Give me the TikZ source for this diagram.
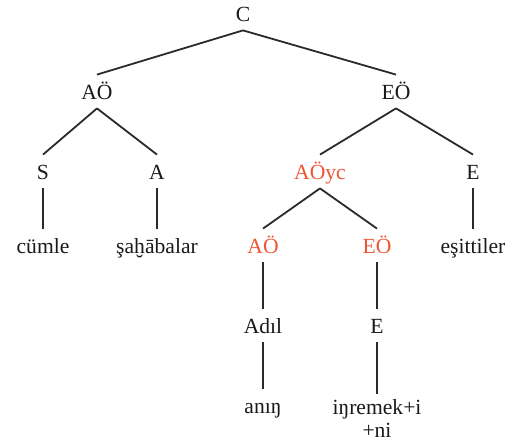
\documentclass[tikz,border=0pt]{standalone}
\usepackage{fontspec}
\setmainfont{Liberation Serif}
\definecolor{treered}{HTML}{EE5533}
\definecolor{treeline}{HTML}{2A2A2A}
\begin{document}
\begin{tikzpicture}[x=0.5pt,y=-0.5pt,
  lbl/.style={anchor=base,inner sep=2.5pt,text height=10pt,text depth=1.5pt,
    font=\fontsize{10.8}{13}\selectfont,text=black!90},
  hl/.style={lbl,text=treered},
  branch/.style={draw=treeline,line width=0.9pt}]
\useasboundingbox (0,0) rectangle (519,448);

% top
\node[lbl] (c) at (243,22) {C};
\node[lbl] (ao) at (97,100) {AÖ};
\node[lbl] (eo) at (396,100) {EÖ};

% second row
\node[lbl] (s) at (43,180) {S};
\node[lbl] (a) at (157,180) {A};
\node[hl] (aoyc) at (320,180) {AÖyc};
\node[lbl] (e) at (473,180) {E};

% third row
\node[lbl] (cumle) at (43,254) {cümle};
\node[lbl] (sahabalar) at (157,254) {şaḫābalar};
\node[hl] (aoyc-ao) at (263,254) {AÖ};
\node[hl] (aoyc-eo) at (377,254) {EÖ};
\node[lbl] (esittiler) at (473,254) {eşittiler};

% fourth row
\node[lbl] (adil) at (263,334) {Adıl};
\node[lbl] (e2) at (377,334) {E};

% bottom
\node[lbl] (anin) at (263,414) {anıŋ};
\node[lbl,anchor=north,text height=,text depth=,align=center,
  font=\fontsize{10.8}{11.5}\selectfont] (inremek) at (377,394) {iŋremek+i\\+ni};

\draw[branch] (c.south) -- (ao.north);
\draw[branch] (c.south) -- (eo.north);
\draw[branch] (ao.south) -- (s.north);
\draw[branch] (ao.south) -- (a.north);
\draw[branch] (eo.south) -- (aoyc.north);
\draw[branch] (eo.south) -- (e.north);
\draw[branch] (s.south) -- (cumle.north);
\draw[branch] (a.south) -- (sahabalar.north);
\draw[branch] (e.south) -- (esittiler.north);
\draw[branch] (aoyc.south) -- (aoyc-ao.north);
\draw[branch] (aoyc.south) -- (aoyc-eo.north);
\draw[branch] (aoyc-ao.south) -- (adil.north);
\draw[branch] (aoyc-eo.south) -- (e2.north);
\draw[branch] (adil.south) -- (anin.north);
\draw[branch] (e2.south) -- (inremek.north);

\end{tikzpicture}
\end{document}
